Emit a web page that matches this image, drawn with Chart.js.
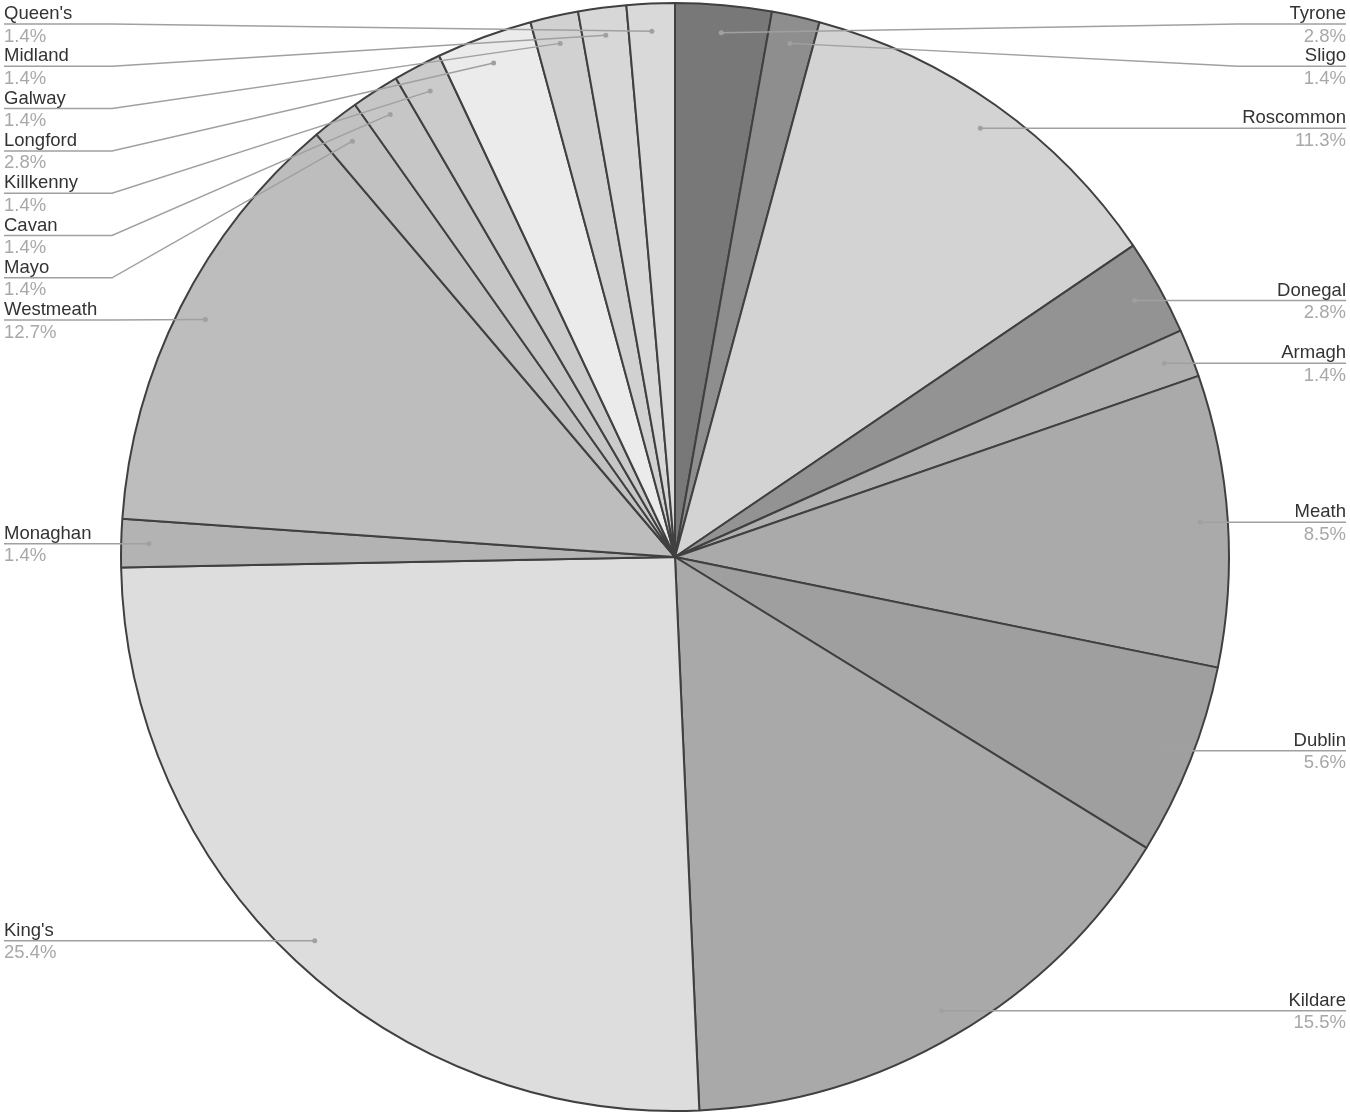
<!DOCTYPE html>
<html>
<head>
<meta charset="utf-8">
<script src="https://cdn.jsdelivr.net/npm/chart.js@4.4.1/dist/chart.umd.min.js"></script>
<style>
  html, body { margin: 0; padding: 0; background: #fff; }
  #wrap { width: 1350px; height: 1116px; }
</style>
</head>
<body>
<div id="wrap"><canvas id="pieChart" width="1350" height="1116"></canvas></div>
<script>
// counties, clockwise from 12 o'clock
const counties = ['Tyrone', 'Sligo', 'Roscommon', 'Donegal', 'Armagh', 'Meath', 'Dublin', 'Kildare',
  "King's", 'Monaghan', 'Westmeath', 'Mayo', 'Cavan', 'Killkenny', 'Longford', 'Galway', 'Midland', "Queen's"];

// share of total, in percent
const shares = [2.8, 1.4, 11.3, 2.8, 1.4, 8.5, 5.6, 15.5, 25.4, 1.4, 12.7, 1.4, 1.4, 1.4, 2.8, 1.4, 1.4, 1.4];

// grey shade of each slice
const shades = ['#787878', '#8e8e8e', '#d3d3d3', '#939393', '#afafaf', '#aaaaaa', '#9f9f9f', '#a9a9a9',
  '#dddddd', '#b3b3b3', '#bdbdbd', '#c1c1c1', '#c6c6c6', '#cbcbcb', '#ebebeb', '#d1d1d1', '#d7d7d7', '#d9d9d9'];

// spread the label rows on one side so they do not overlap
function spreadRows(items, gap, top, bottom) {
  items.sort((a, b) => a.dy - b.dy);
  let groups = items.map(it => ({ items: [it], y: it.dy }));
  let changed = true;
  while (changed) {
    changed = false;
    groups.forEach(g => {
      g.y = Math.max(top, Math.min(g.y, bottom - (g.items.length - 1) * gap));
    });
    for (let i = 1; i < groups.length; i++) {
      const a = groups[i - 1], b = groups[i];
      if (a.y + a.items.length * gap > b.y) {
        const all = a.items.concat(b.items);
        const mean = all.reduce((s, it) => s + it.dy, 0) / all.length;
        groups.splice(i - 1, 2, { items: all, y: mean - (all.length - 1) * gap / 2 });
        changed = true;
        break;
      }
    }
  }
  groups.forEach(g => g.items.forEach((it, k) => { it.ly = g.y + k * gap; }));
}

// outside labels with leader lines
const leaderLabels = {
  id: 'leaderLabels',
  afterDraw(chart) {
    const ctx = chart.ctx;
    const meta = chart.getDatasetMeta(0);
    const left = [], right = [];
    meta.data.forEach((arc, i) => {
      const p = arc.getProps(['x', 'y', 'startAngle', 'endAngle', 'outerRadius'], true);
      const mid = (p.startAngle + p.endAngle) / 2;
      const r = p.outerRadius * 0.95;
      const item = {
        i: i,
        dx: p.x + Math.cos(mid) * r,
        dy: p.y + Math.sin(mid) * r
      };
      (item.dx >= p.x ? right : left).push(item);
    });
    const gap = 42.3;
    spreadRows(left, gap, 24, chart.height - 24);
    spreadRows(right, gap, 24, chart.height - 24);

    const W = chart.width;
    const draw = (item, isLeft) => {
      const edge = isLeft ? 4 : W - 4;
      const knee = isLeft ? 112 : W - 112;
      ctx.save();
      ctx.strokeStyle = '#a0a0a0';
      ctx.lineWidth = 1.5;
      ctx.beginPath();
      ctx.moveTo(edge, item.ly);
      ctx.lineTo(knee, item.ly);
      ctx.lineTo(item.dx, item.dy);
      ctx.stroke();
      ctx.fillStyle = '#a0a0a0';
      ctx.beginPath();
      ctx.arc(item.dx, item.dy, 2.5, 0, Math.PI * 2);
      ctx.fill();

      ctx.textAlign = isLeft ? 'left' : 'right';
      ctx.textBaseline = 'alphabetic';
      ctx.font = '18.5px "Liberation Sans", Arial, sans-serif';
      ctx.fillStyle = '#333333';
      ctx.fillText(counties[item.i], edge, item.ly - 5);
      ctx.fillStyle = '#a8a8a8';
      ctx.fillText(shares[item.i].toFixed(1) + '%', edge, item.ly + 17.5);
      ctx.restore();
    };
    left.forEach(it => draw(it, true));
    right.forEach(it => draw(it, false));
  }
};

const ctx = document.getElementById('pieChart').getContext('2d');
const pieChart = new Chart(ctx, {
  type: 'pie',
  data: {
    labels: counties,
    datasets: [{
      data: shares,
      backgroundColor: shades,
      borderColor: '#404040',
      borderWidth: 2
    }]
  },
  options: {
    responsive: false,
    animation: false,
    layout: { padding: { top: 2, bottom: 4, left: 0, right: 0 } },
    plugins: {
      legend: { display: false },
      tooltip: { enabled: false }
    }
  },
  plugins: [leaderLabels]
});
</script>
</body>
</html>
